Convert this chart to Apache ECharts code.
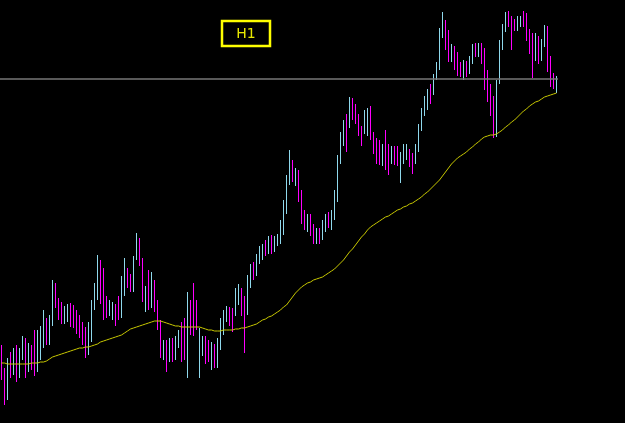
<!DOCTYPE html>
<html>
<head>
<meta charset="utf-8">
<script src="https://cdn.jsdelivr.net/npm/echarts@6/dist/echarts.min.js"></script>
<style>
html,body{margin:0;padding:0;background:#000;}
#chart{width:625px;height:423px;}
</style>
</head>
<body>
<div id="chart"></div>
<script>
// Each candle: [open, close, low, high] (price units)
const candles = [
[150,125,120,155],[128,100,95,132],[105,138,100,142],[138,130,122,148],[130,148,125,152],
[148,125,118,155],[128,145,122,152],[145,160,140,164],[158,132,122,162],[132,152,128,157],
[150,135,130,155],[140,128,124,170],[132,165,128,170],[155,170,140,174],[160,178,152,190],
[175,160,155,182],[162,180,155,185],[178,212,174,220],[214,196,192,217],[197,184,180,202],
[194,180,176,198],[180,189,176,194],[182,192,178,196],[194,177,173,197],[190,176,172,195],
[187,170,166,190],[182,166,162,185],[175,160,155,178],[170,155,142,173],[150,172,145,178],
[162,195,158,200],[195,212,190,217],[205,238,200,245],[235,202,196,240],[220,184,180,232],
[200,186,182,204],[188,196,184,200],[184,194,180,198],[192,178,174,196],[200,184,180,204],
[186,220,182,224],[208,238,204,242],[228,216,212,232],[222,212,208,226],[218,240,208,244],
[245,262,240,267],[258,238,234,262],[238,208,198,242],[192,208,188,214],[225,194,190,230],
[197,224,192,228],[216,192,188,220],[196,174,170,200],[176,148,142,180],[144,156,140,160],
[158,146,128,160],[144,158,138,162],[158,144,138,162],[144,160,140,164],[155,164,152,170],
[166,152,138,178],[172,160,140,182],[155,184,122,208],[192,170,165,200],[208,182,164,217],
[195,175,170,200],[150,168,122,172],[148,160,144,164],[160,140,136,164],[155,142,138,160],
[140,154,130,158],[152,136,132,156],[136,158,132,162],[155,178,150,182],[175,186,165,190],
[182,190,178,194],[190,178,174,193],[188,172,168,192],[188,206,184,212],[200,212,195,216],
[208,190,184,212],[200,158,147,204],[190,220,185,225],[218,232,212,236],[234,224,220,238],
[228,242,224,246],[240,250,236,254],[244,252,240,256],[256,248,244,260],[250,260,246,264],
[262,250,246,265],[252,260,248,264],[257,262,254,266],[260,275,256,280],[270,295,265,300],
[290,320,286,325],[320,335,315,350],[335,322,318,340],[318,328,314,332],[326,302,298,330],
[305,280,276,310],[286,273,270,290],[273,282,268,286],[282,268,264,286],[272,260,256,276],
[259,268,256,272],[268,260,256,272],[264,275,260,280],[272,282,268,286],[285,276,272,288],
[274,286,270,290],[284,305,280,310],[302,340,298,345],[340,362,336,368],[358,375,354,380],
[382,352,348,386],[375,398,372,403],[398,384,380,402],[392,380,376,396],[382,368,364,386],
[370,358,354,374],[370,385,366,390],[370,388,364,392],[390,364,360,394],[364,350,346,368],
[358,340,336,362],[355,340,335,360],[338,352,334,356],[365,334,330,370],[352,330,325,356],
[340,350,336,354],[350,340,335,354],[350,338,334,354],[334,344,317,348],[340,352,336,356],
[344,352,340,356],[347,337,333,351],[343,330,326,347],[340,352,336,356],[352,372,348,376],
[372,388,369,392],[387,400,384,404],[394,407,390,411],[412,400,396,416],[408,422,405,426],
[423,433,420,438],[433,467,430,472],[467,486,462,488],[476,454,450,480],[466,442,438,470],
[442,452,438,456],[450,434,430,454],[443,428,424,448],[433,427,423,438],[424,436,420,440],
[435,427,423,439],[430,440,426,444],[440,452,436,456],[453,447,443,457],[447,453,443,457],
[453,440,436,457],[448,415,410,452],[425,403,398,430],[412,388,384,416],[400,367,362,404],
[367,415,363,420],[420,455,416,460],[455,472,450,476],[472,485,468,488],[487,477,473,489],
[480,467,450,484],[477,473,469,481],[473,480,469,484],[477,480,473,484],[487,477,473,489],
[483,463,459,487],[467,450,446,471],[463,443,422,467],[443,463,439,467],[460,440,436,464],
[443,457,439,461],[457,467,453,475],[470,433,428,474],[440,417,413,444],[423,415,411,427],
[410,420,407,424]
];

// Moving average line values (price units)
const maValues = [
137,137,136,136,136,136,136,136,136,136,
137,137,137,138,138,139,141,143,144,145,
146,147,148,149,150,151,152,152,153,153,
154,155,156,158,159,160,161,162,163,164,
165,167,169,171,172,173,174,175,176,177,
178,179,179,179,178,177,176,175,174,174,
173,173,173,173,173,173,173,172,171,170,
170,169,169,169,170,170,170,170,171,171,
172,172,173,174,175,176,178,180,181,183,
184,186,188,190,193,195,199,203,207,210,
213,215,217,218,220,221,222,223,225,227,
229,231,234,237,240,244,248,251,255,259,
263,266,270,273,275,277,279,281,283,284,
286,288,290,291,293,294,296,297,299,301,
303,306,308,311,314,317,320,324,328,332,
336,339,342,344,346,348,351,353,356,358,
361,363,364,365,365,366,368,370,373,375,
378,380,383,386,389,391,394,396,398,399,
401,403,404,405,406,407
];

// Horizontal price level
const levels = [421];
const timeframeLabel = 'H1';
const categories = candles.map((_, i) => 'bar ' + (i + 1));

const chart = echarts.init(document.getElementById('chart'), null, {renderer: 'canvas'});
chart.setOption({
  backgroundColor: '#000000',
  animation: false,
  grid: {left: 0, right: 67, top: 0, bottom: 0, containLabel: false},
  xAxis: {type: 'category', data: categories, show: false, boundaryGap: true},
  yAxis: {type: 'value', min: 77, max: 500, show: false, scale: true, splitLine: {show: false}},
  series: [
    {
      type: 'candlestick',
      data: candles,
      barWidth: 1.4,
      clip: false,
      itemStyle: {
        color: '#8fd8ec', color0: '#ff00ff',
        borderColor: '#8fd8ec', borderColor0: '#ff00ff',
        borderWidth: 1
      },
      markLine: {
        silent: true,
        symbol: ['none', 'none'],
        label: {show: false},
        lineStyle: {color: '#777777', width: 1.5, type: 'solid'},
        data: levels.map(v => ({yAxis: v}))
      }
    },
    {
      type: 'line',
      data: maValues,
      showSymbol: false,
      smooth: false,
      lineStyle: {color: '#c8c800', width: 1},
      z: 3
    }
  ],
  graphic: [
    {
      type: 'rect',
      shape: {x: 222, y: 21, width: 48, height: 25},
      style: {fill: 'none', stroke: '#ffff00', lineWidth: 2.5}
    },
    {
      type: 'text',
      x: 246, y: 34,
      style: {text: timeframeLabel, fill: '#e8e800', font: '14px "DejaVu Sans", sans-serif', align: 'center', verticalAlign: 'middle'}
    }
  ]
});
</script>
</body>
</html>
